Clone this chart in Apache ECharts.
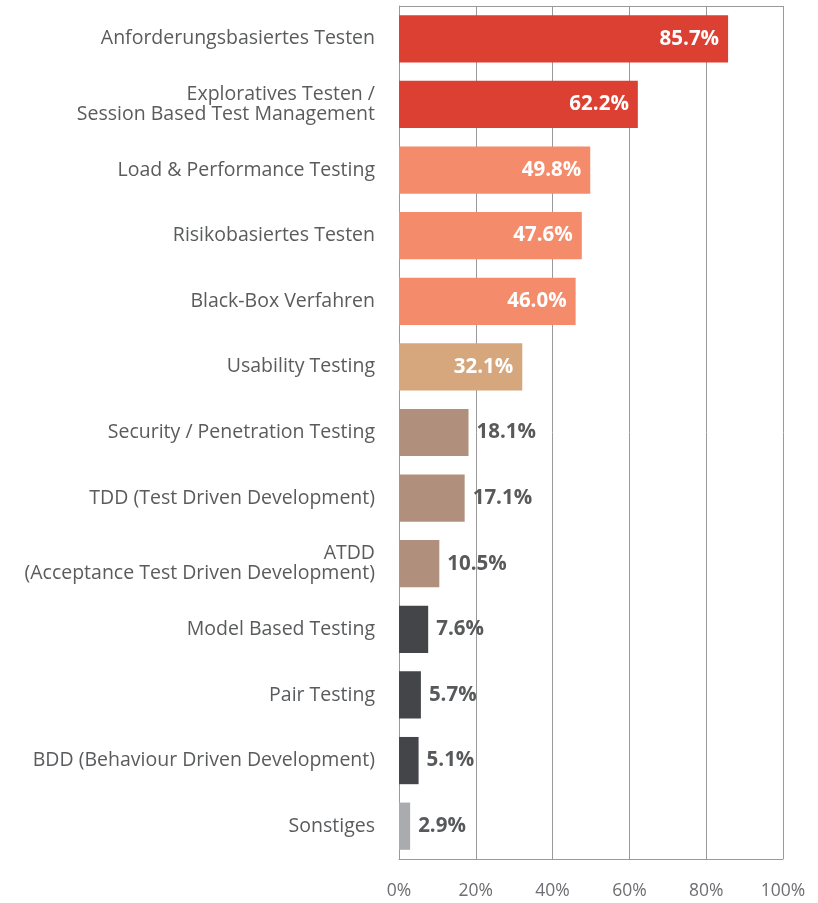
<!DOCTYPE html>
<html>
<head>
<meta charset="utf-8">
<script src="https://cdn.jsdelivr.net/npm/echarts@6/dist/echarts.min.js"></script>
<style>
  html, body { margin: 0; padding: 0; background: #ffffff; }
  #chart { width: 818px; height: 903px; }
</style>
</head>
<body>
<div id="chart"></div>
<script>
// Testing methods and share of respondents using them (percent)
const categories = [
  'Anforderungsbasiertes Testen',
  'Exploratives Testen /\nSession Based Test Management',
  'Load & Performance Testing',
  'Risikobasiertes Testen',
  'Black-Box Verfahren',
  'Usability Testing',
  'Security / Penetration Testing',
  'TDD (Test Driven Development)',
  'ATDD\n(Acceptance Test Driven Development)',
  'Model Based Testing',
  'Pair Testing',
  'BDD (Behaviour Driven Development)',
  'Sonstiges'
];
const values = [85.7, 62.2, 49.8, 47.6, 46.0, 32.1, 18.1, 17.1, 10.5, 7.6, 5.7, 5.1, 2.9];
const barColors = [
  '#DB4033', '#DB4033',
  '#F48C6C', '#F48C6C', '#F48C6C',
  '#D6A77D',
  '#B0907D', '#B0907D', '#B0907D',
  '#444548', '#444548', '#444548',
  '#AAABAF'
];
const xTicks = [0, 20, 40, 60, 80, 100];

const FONT = '"Open Sans", "Noto Sans", sans-serif';
const insideLimit = 30;

const chart = echarts.init(document.getElementById('chart'), null, { renderer: 'canvas' });

const data = values.map((v, i) => ({
  value: v,
  itemStyle: { color: barColors[i] },
  label: v > insideLimit
    ? { position: 'insideRight', color: '#ffffff', distance: 9 }
    : { position: 'right', color: '#58595B', distance: 8 }
}));

chart.setOption({
  animation: false,
  backgroundColor: '#ffffff',
  grid: { left: 399, right: 35, top: 6, bottom: 44, containLabel: false },
  xAxis: {
    type: 'value',
    min: xTicks[0],
    max: xTicks[xTicks.length - 1],
    interval: 20,
    position: 'bottom',
    axisLine: { show: true, lineStyle: { color: '#999999', width: 1 } },
    axisTick: { show: false },
    splitLine: { show: true, lineStyle: { color: '#999999', width: 1 } },
    axisLabel: {
      color: '#6D6E71',
      fontFamily: FONT,
      fontSize: 17.5,
      margin: 23,
      formatter: v => v + '%'
    }
  },
  yAxis: {
    type: 'category',
    data: categories,
    inverse: true,
    axisLine: { show: true, lineStyle: { color: '#999999', width: 1 } },
    axisTick: { show: false },
    axisLabel: {
      color: '#5A5B5D',
      fontFamily: FONT,
      fontSize: 19.5,
      lineHeight: 20,
      margin: 24,
      padding: [5, 0, 0, 0],
      align: 'right'
    }
  },
  series: [{
    type: 'bar',
    data: data,
    barCategoryGap: '28%',
    label: {
      show: true,
      fontFamily: FONT,
      fontSize: 20.5,
      fontWeight: 'bold',
      formatter: p => p.value.toFixed(1) + '%'
    }
  }],
  graphic: [{
    type: 'line',
    shape: { x1: 399, y1: 6.5, x2: 783, y2: 6.5 },
    style: { stroke: '#999999', lineWidth: 1 }
  }]
});
</script>
</body>
</html>
